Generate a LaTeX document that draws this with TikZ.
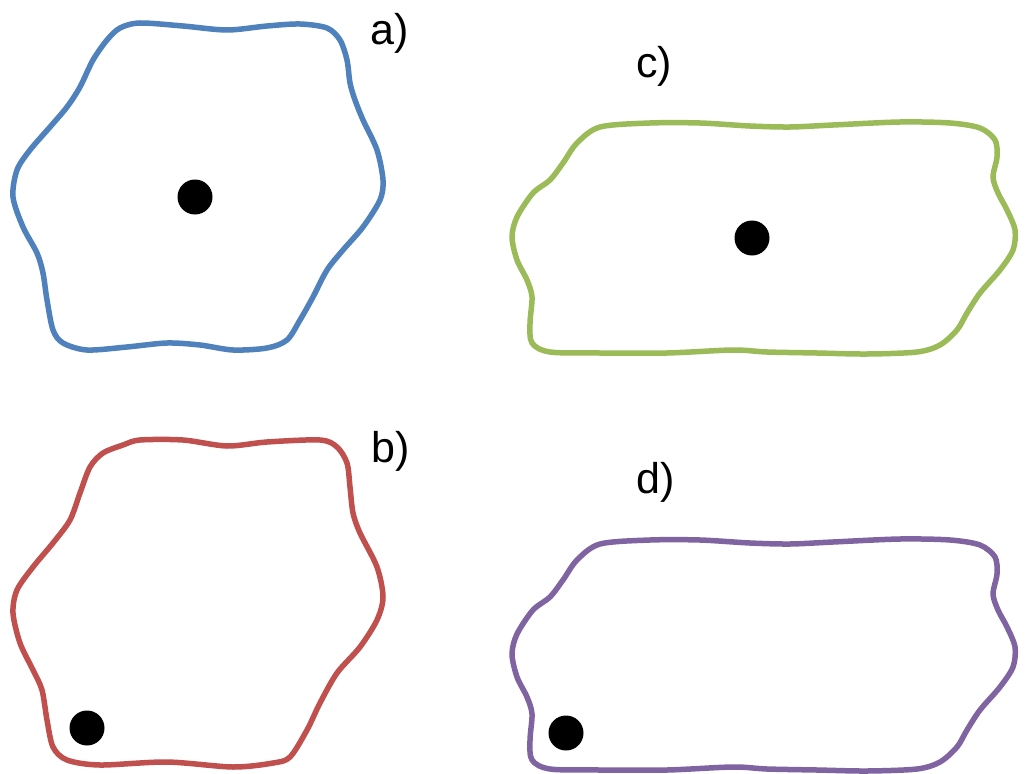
\documentclass[tikz,border=0pt]{standalone}
\usepackage{fontspec}
\setmainfont{Liberation Sans}
\definecolor{cblue}{HTML}{4F81BD}
\definecolor{cred}{HTML}{C0504D}
\definecolor{cgreen}{HTML}{9BBB59}
\definecolor{cpurple}{HTML}{8064A2}
\begin{document}
\begin{tikzpicture}[x=1pt,y=-1pt,
  outline/.style={line width=5.5pt, line join=round},
  dot/.style={circle, fill=black, inner sep=0pt, minimum size=35pt},
  lab/.style={anchor=base west, inner sep=0pt, font=\fontsize{43}{50}\selectfont}]
\useasboundingbox[fill=white] (0,0) rectangle (1027,773);
% a)
\draw[outline, cblue] plot[smooth cycle, tension=0.5] coordinates {
(140,23) (183,26) (227,30) (267,26) (300,24) (327,28) (340,40) (347,60) (350,83) (355,100) (363,120) (377,150) (383,180) (380,200) (363,227) (343,250) (327,270) (313,297) (300,320) (287,340) (267,348) (233,350) (200,345) (167,343) (127,347) (87,350) (63,343) (53,330) (47,300) (43,273) (37,253) (23,227) (13,197) (17,170) (30,150) (50,127) (67,107) (80,87) (93,60) (107,40) (120,28)};
\node[dot] (dota) at (195,197) {};
\node[lab] (laba) at (370,45) {a)};
% b)
\draw[outline, cred] plot[smooth cycle, tension=0.5] coordinates {
(140,440) (183,440) (227,446) (267,442) (320,440) (337,447) (347,463) (350,487) (353,513) (360,533) (377,567) (383,597) (377,620) (360,647) (337,673) (320,703) (307,730) (290,757) (273,763) (233,767) (167,762) (100,765) (67,760) (53,747) (47,720) (42,690) (33,670) (20,643) (13,613) (17,590) (33,567) (53,543) (70,520) (80,493) (90,467) (103,453) (123,445)};
\node[dot] (dotb) at (87,728) {};
\node[lab] (labb) at (371,462) {b)};
% c)
\draw[outline, cgreen] plot[smooth cycle, tension=0.5] coordinates {
(600,127) (650,123) (700,123) (750,126) (790,127) (833,125) (900,122) (950,123) (980,128) (995,140) (997,157) (993,177) (998,193) (1007,210) (1015,230) (1013,250) (1000,270) (980,293) (967,313) (957,330) (940,345) (917,352) (867,354) (817,353) (767,352) (733,350) (667,353) (600,353) (550,352) (532,343) (530,323) (532,297) (527,280) (517,260) (512,237) (517,217) (533,193) (550,180) (563,163) (577,143)};
\node[dot] (dotc) at (752,238) {};
\node[lab] (labc) at (636,78) {c)};
% d)
\begin{scope}[yshift=-417pt]
\draw[outline, cpurple] plot[smooth cycle, tension=0.5] coordinates {
(600,127) (650,123) (700,123) (750,126) (790,127) (833,125) (900,122) (950,123) (980,128) (995,140) (997,157) (993,177) (998,193) (1007,210) (1015,230) (1013,250) (1000,270) (980,293) (967,313) (957,330) (940,345) (917,352) (867,354) (817,353) (767,352) (733,350) (667,353) (600,353) (550,352) (532,343) (530,323) (532,297) (527,280) (517,260) (512,237) (517,217) (533,193) (550,180) (563,163) (577,143)};
\end{scope}
\node[dot] (dotd) at (566,733) {};
\node[lab] (labd) at (636,493) {d)};
\end{tikzpicture}
\end{document}
